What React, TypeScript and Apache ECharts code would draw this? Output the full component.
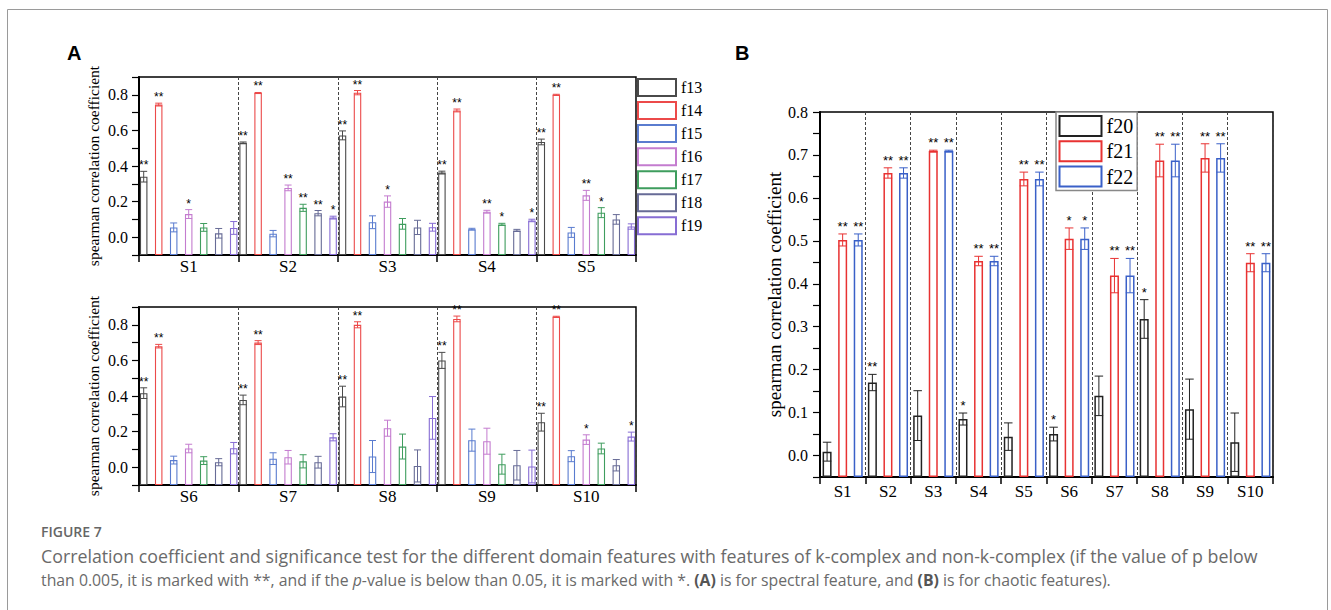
import React, { useEffect, useRef } from 'react';
import * as echarts from 'echarts';

// ---------- categories ----------
const catsTop = ['S1', 'S2', 'S3', 'S4', 'S5'];
const catsBottom = ['S6', 'S7', 'S8', 'S9', 'S10'];
const catsB = ['S1', 'S2', 'S3', 'S4', 'S5', 'S6', 'S7', 'S8', 'S9', 'S10'];
const featA = ['f13', 'f14', 'f15', 'f16', 'f17', 'f18', 'f19'];
const featB = ['f20', 'f21', 'f22'];

// ---------- panel A (S1..S10) ----------
const f13 = [0.34, 0.53, 0.572, 0.363, 0.535, 0.416, 0.378, 0.397, 0.6, 0.253];
const f13Err = [0.03, 0.005, 0.025, 0.008, 0.016, 0.03, 0.027, 0.058, 0.045, 0.05];
const f13Sig = ['**', '**', '**', '**', '**', '**', '**', '**', '**', '**'];
const f14 = [0.745, 0.81, 0.812, 0.712, 0.8, 0.68, 0.7, 0.8, 0.833, 0.845];
const f14Err = [0.008, 0.003, 0.012, 0.008, 0.003, 0.01, 0.011, 0.017, 0.016, 0.003];
const f14Sig = ['**', '**', '**', '**', '**', '**', '**', '**', '**', '**'];
const f15 = [0.055, 0.02, 0.084, 0.045, 0.027, 0.04, 0.048, 0.06, 0.152, 0.062];
const f15Err = [0.025, 0.018, 0.036, 0.005, 0.028, 0.022, 0.033, 0.09, 0.062, 0.031];
const f15Sig = ['', '', '', '', '', '', '', '', '', ''];
const f16 = [0.13, 0.277, 0.2, 0.143, 0.235, 0.105, 0.056, 0.219, 0.146, 0.155];
const f16Err = [0.025, 0.016, 0.032, 0.008, 0.028, 0.024, 0.038, 0.045, 0.073, 0.027];
const f16Sig = ['*', '**', '*', '**', '**', '', '', '', '', '*'];
const f17 = [0.055, 0.165, 0.075, 0.072, 0.138, 0.037, 0.033, 0.116, 0.017, 0.105];
const f17Err = [0.022, 0.02, 0.03, 0.006, 0.028, 0.022, 0.037, 0.07, 0.056, 0.03];
const f17Sig = ['', '**', '', '*', '*', '', '', '', '', ''];
const f18 = [0.022, 0.135, 0.055, 0.038, 0.1, 0.028, 0.028, 0.007, 0.011, 0.011];
const f18Err = [0.027, 0.015, 0.04, 0.006, 0.027, 0.02, 0.033, 0.09, 0.083, 0.032];
const f18Sig = ['', '**', '', '', '', '', '', '', '', ''];
const f19 = [0.052, 0.11, 0.056, 0.094, 0.06, 0.107, 0.168, 0.277, 0.004, 0.172];
const f19Err = [0.036, 0.008, 0.022, 0.007, 0.015, 0.032, 0.02, 0.12, 0.092, 0.025];
const f19Sig = ['', '*', '', '*', '', '', '', '', '', '*'];

// ---------- panel B ----------
const f20 = [0.009, 0.17, 0.093, 0.085, 0.044, 0.05, 0.139, 0.318, 0.108, 0.031];
const f20Err = [0.022, 0.019, 0.058, 0.014, 0.032, 0.016, 0.046, 0.045, 0.07, 0.068];
const f20Sig = ['', '**', '', '*', '', '*', '', '*', '', ''];
const f21 = [0.502, 0.658, 0.709, 0.453, 0.644, 0.505, 0.419, 0.687, 0.693, 0.449];
const f21Err = [0.014, 0.012, 0.002, 0.011, 0.016, 0.025, 0.04, 0.038, 0.033, 0.021];
const f21Sig = ['**', '**', '**', '**', '**', '*', '**', '**', '**', '**'];
const f22 = [0.502, 0.658, 0.709, 0.453, 0.644, 0.505, 0.419, 0.687, 0.693, 0.449];
const f22Err = [0.014, 0.012, 0.002, 0.011, 0.016, 0.025, 0.04, 0.038, 0.033, 0.021];
const f22Sig = ['**', '**', '**', '**', '**', '*', '**', '**', '**', '**'];

const valsA = [f13, f14, f15, f16, f17, f18, f19];
const errsA = [f13Err, f14Err, f15Err, f16Err, f17Err, f18Err, f19Err];
const sigsA = [f13Sig, f14Sig, f15Sig, f16Sig, f17Sig, f18Sig, f19Sig];
const valsB = [f20, f21, f22];
const errsB = [f20Err, f21Err, f22Err];
const sigsB = [f20Sig, f21Sig, f22Sig];

const colorsA = ['#4a4a4a', '#ec4a4a', '#5a7ccf', '#c47ccf', '#3f9d5e', '#676b96', '#876dd4'];
const colorsB = ['#222222', '#e83232', '#3a60c8'];

const SERIF = "'Liberation Serif', 'Times New Roman', serif";
const SANS = "'Liberation Sans', Arial, sans-serif";
const CAP = "'Open Sans', sans-serif";

const line1 =
  'Correlation coefficient and significance test for the different domain features with features of k-complex and non-k-complex (if the value of p below';
const line2 =
  'than 0.005, it is marked with **, and if the {i|p}-value is below than 0.05, it is marked with *. {b|(A)} is for spectral feature, and {b|(B)} is for chaotic features).';

function buildErr(vals: number[][], errs: number[][], sigs: string[][], from: number, to: number) {
  const data: number[][] = [];
  const labels: string[] = [];
  for (let s = 0; s < vals.length; s++) {
    for (let i = from; i < to; i++) {
      data.push([i - from, vals[s][i], errs[s][i], s]);
      labels.push(sigs[s][i]);
    }
  }
  return { data, labels };
}

function errSeries(
  xi: number,
  built: { data: number[][]; labels: string[] },
  colors: string[],
  nSeries: number,
  step: number,
  capW: number,
  starSize: number,
  starGap: number
) {
  const mid = (nSeries - 1) / 2;
  return {
    type: 'custom',
    xAxisIndex: xi,
    yAxisIndex: xi,
    silent: true,
    z: 5,
    encode: { x: 0, y: 1 },
    data: built.data,
    renderItem: (params: any, api: any) => {
      const c = api.value(0);
      const v = api.value(1);
      const e = api.value(2);
      const s = api.value(3);
      const base = api.coord([c, v]);
      const x = base[0] + (s - mid) * step;
      const yT = api.coord([c, v + e])[1];
      const yB = api.coord([c, v - e])[1];
      const col = colors[s];
      const h = capW / 2;
      const ls = { stroke: col, lineWidth: 1 };
      const children: any[] = [
        { type: 'line', shape: { x1: x, y1: yT, x2: x, y2: yB }, style: ls },
        { type: 'line', shape: { x1: x - h, y1: yT, x2: x + h, y2: yT }, style: ls },
        { type: 'line', shape: { x1: x - h, y1: yB, x2: x + h, y2: yB }, style: ls },
      ];
      const lab = built.labels[params.dataIndex];
      if (lab) {
        children.push({
          type: 'text',
          style: {
            text: lab,
            x: x,
            y: yT + starGap,
            align: 'center',
            verticalAlign: 'bottom',
            fontSize: starSize,
            fontFamily: SANS,
            fill: '#000',
          },
        });
      }
      return { type: 'group', children };
    },
  };
}

function xAxis(gridIndex: number, data: string[], margin: number) {
  return {
    type: 'category',
    gridIndex,
    data,
    boundaryGap: true,
    axisLine: { onZero: false, lineStyle: { color: '#000', width: 2 } },
    axisTick: { show: true, alignWithLabel: false, interval: 0, length: 7, lineStyle: { color: '#000', width: 1.5 } },
    axisLabel: { interval: 0, color: '#000', fontFamily: SERIF, fontSize: 17, margin },
    splitLine: { show: true, interval: 0, lineStyle: { color: '#444', type: [3, 2], width: 1 } },
  };
}

function yAxisA(gridIndex: number) {
  return {
    type: 'value',
    gridIndex,
    min: -0.1,
    max: 0.9,
    interval: 0.1,
    startValue: -0.1,
    axisLine: { show: true, onZero: false, lineStyle: { color: '#000', width: 2 } },
    axisTick: { show: true, length: 7, lineStyle: { color: '#000', width: 1.2 } },
    axisLabel: {
      color: '#000',
      fontFamily: SERIF,
      fontSize: 16,
      margin: 11,
      formatter: (v: number) => {
        const k = Math.round(v * 10);
        return k >= 0 && k <= 8 && k % 2 === 0 ? (k / 10).toFixed(1) : '';
      },
    },
    splitLine: { show: false },
    name: 'spearman correlation coefficient',
    nameLocation: 'middle',
    nameGap: 38,
    nameTextStyle: { fontFamily: SERIF, fontSize: 15.5, color: '#000' },
  };
}

export default function App() {
  const ref = useRef<HTMLDivElement>(null);
  useEffect(() => {
    if (!ref.current) return;
    const chart = echarts.init(ref.current, null, { renderer: 'svg' });

    const series: any[] = [];
    featA.forEach((name, s) => {
      [0, 1].forEach((g) => {
        series.push({
          type: 'bar',
          name,
          xAxisIndex: g,
          yAxisIndex: g,
          data: valsA[s].slice(g * 5, g * 5 + 5),
          barWidth: 7.5,
          barGap: '100%',
          silent: true,
          itemStyle: { color: 'rgba(255,255,255,0)', borderColor: colorsA[s], borderWidth: 1.1 },
        });
      });
    });
    featB.forEach((name, s) => {
      series.push({
        type: 'bar',
        name,
        xAxisIndex: 2,
        yAxisIndex: 2,
        data: valsB[s],
        barWidth: 9,
        barGap: '73%',
        silent: true,
        itemStyle: { color: 'rgba(255,255,255,0)', borderColor: colorsB[s], borderWidth: 1.5 },
      });
    });
    series.push(errSeries(0, buildErr(valsA, errsA, sigsA, 0, 5), colorsA, 7, 15, 7, 12, 0));
    series.push(errSeries(1, buildErr(valsA, errsA, sigsA, 5, 10), colorsA, 7, 15, 7, 12, 0));
    series.push(errSeries(2, buildErr(valsB, errsB, sigsB, 0, 10), colorsB, 3, 15.57, 8.5, 13, -1));

    const option: any = {
      animation: false,
      backgroundColor: '#fff',
      grid: [
        { left: 139, top: 77, width: 497, height: 178, show: true, borderColor: '#000', borderWidth: 1.5, backgroundColor: 'transparent' },
        { left: 139, top: 307, width: 497, height: 178, show: true, borderColor: '#000', borderWidth: 1.5, backgroundColor: 'transparent' },
        { left: 820, top: 112, width: 453, height: 365, show: true, borderColor: '#000', borderWidth: 1.5, backgroundColor: 'transparent' },
      ],
      xAxis: [xAxis(0, catsTop, 3), xAxis(1, catsBottom, 3), xAxis(2, catsB, 6)],
      yAxis: [
        yAxisA(0),
        yAxisA(1),
        {
          type: 'value',
          gridIndex: 2,
          min: -0.05,
          max: 0.8,
          interval: 0.05,
          startValue: -0.05,
          axisLine: { show: true, onZero: false, lineStyle: { color: '#000', width: 2 } },
          axisTick: { show: true, length: 7, lineStyle: { color: '#000', width: 1.2 } },
          axisLabel: {
            color: '#000',
            fontFamily: SERIF,
            fontSize: 16,
            margin: 12,
            formatter: (v: number) => {
              const k = Math.round(v * 100);
              return k >= 0 && k % 10 === 0 ? (k / 100).toFixed(1) : '';
            },
          },
          splitLine: { show: false },
          name: 'spearman correlation coefficient',
          nameLocation: 'middle',
          nameGap: 34,
          nameTextStyle: { fontFamily: SERIF, fontSize: 19, color: '#000' },
        },
      ],
      legend: [
        {
          data: featA,
          orient: 'vertical',
          left: 637,
          top: 78,
          itemWidth: 38,
          itemHeight: 17,
          itemGap: 4.05,
          padding: 0,
          icon: 'rect',
          selectedMode: false,
          textStyle: { fontFamily: SERIF, fontSize: 16, color: '#000', lineHeight: 17 },
        },
        {
          data: featB,
          orient: 'vertical',
          left: 1056,
          top: 112,
          itemWidth: 42,
          itemHeight: 20,
          itemGap: 3.3,
          padding: [3, 4, 3, 2.5],
          icon: 'rect',
          selectedMode: false,
          backgroundColor: '#fff',
          borderColor: '#888',
          borderWidth: 1.5,
          textStyle: { fontFamily: SERIF, fontSize: 20, color: '#000', lineHeight: 20 },
        },
      ],
      graphic: [
        { type: 'rect', silent: true, shape: { x: 7.5, y: 9.5, width: 1320, height: 700 }, style: { fill: 'none', stroke: '#9a9a9a', lineWidth: 1 } },
        { type: 'text', x: 67, y: 52.5, style: { text: 'A', fontFamily: SANS, fontWeight: 'bold', fontSize: 20, fill: '#000', verticalAlign: 'middle' } },
        { type: 'text', x: 735, y: 52.5, style: { text: 'B', fontFamily: SANS, fontWeight: 'bold', fontSize: 20, fill: '#000', verticalAlign: 'middle' } },
        { type: 'text', x: 41, y: 531, style: { text: 'FIGURE 7', fontFamily: CAP, fontWeight: 600, fontSize: 14, fill: '#666', verticalAlign: 'middle' } },
        { type: 'text', x: 41, y: 556, style: { text: line1, fontFamily: CAP, fontSize: 17.8, fill: '#6a6a6a', verticalAlign: 'middle' } },
        {
          type: 'text',
          x: 41,
          y: 580,
          style: {
            text: line2,
            fontFamily: CAP,
            fontSize: 15.8,
            fill: '#6a6a6a',
            verticalAlign: 'middle',
            rich: {
              b: { fontFamily: CAP, fontSize: 15.8, fontWeight: 'bold', fill: '#555' },
              i: { fontFamily: CAP, fontSize: 15.8, fontStyle: 'italic', fill: '#6a6a6a' },
            },
          },
        },
      ],
      series,
    };
    chart.setOption(option);
    return () => chart.dispose();
  }, []);
  return (
    <div
      ref={ref}
      style={{ position: 'fixed', left: 0, top: 0, width: 1331, height: 610, background: '#fff' }}
    />
  );
}
